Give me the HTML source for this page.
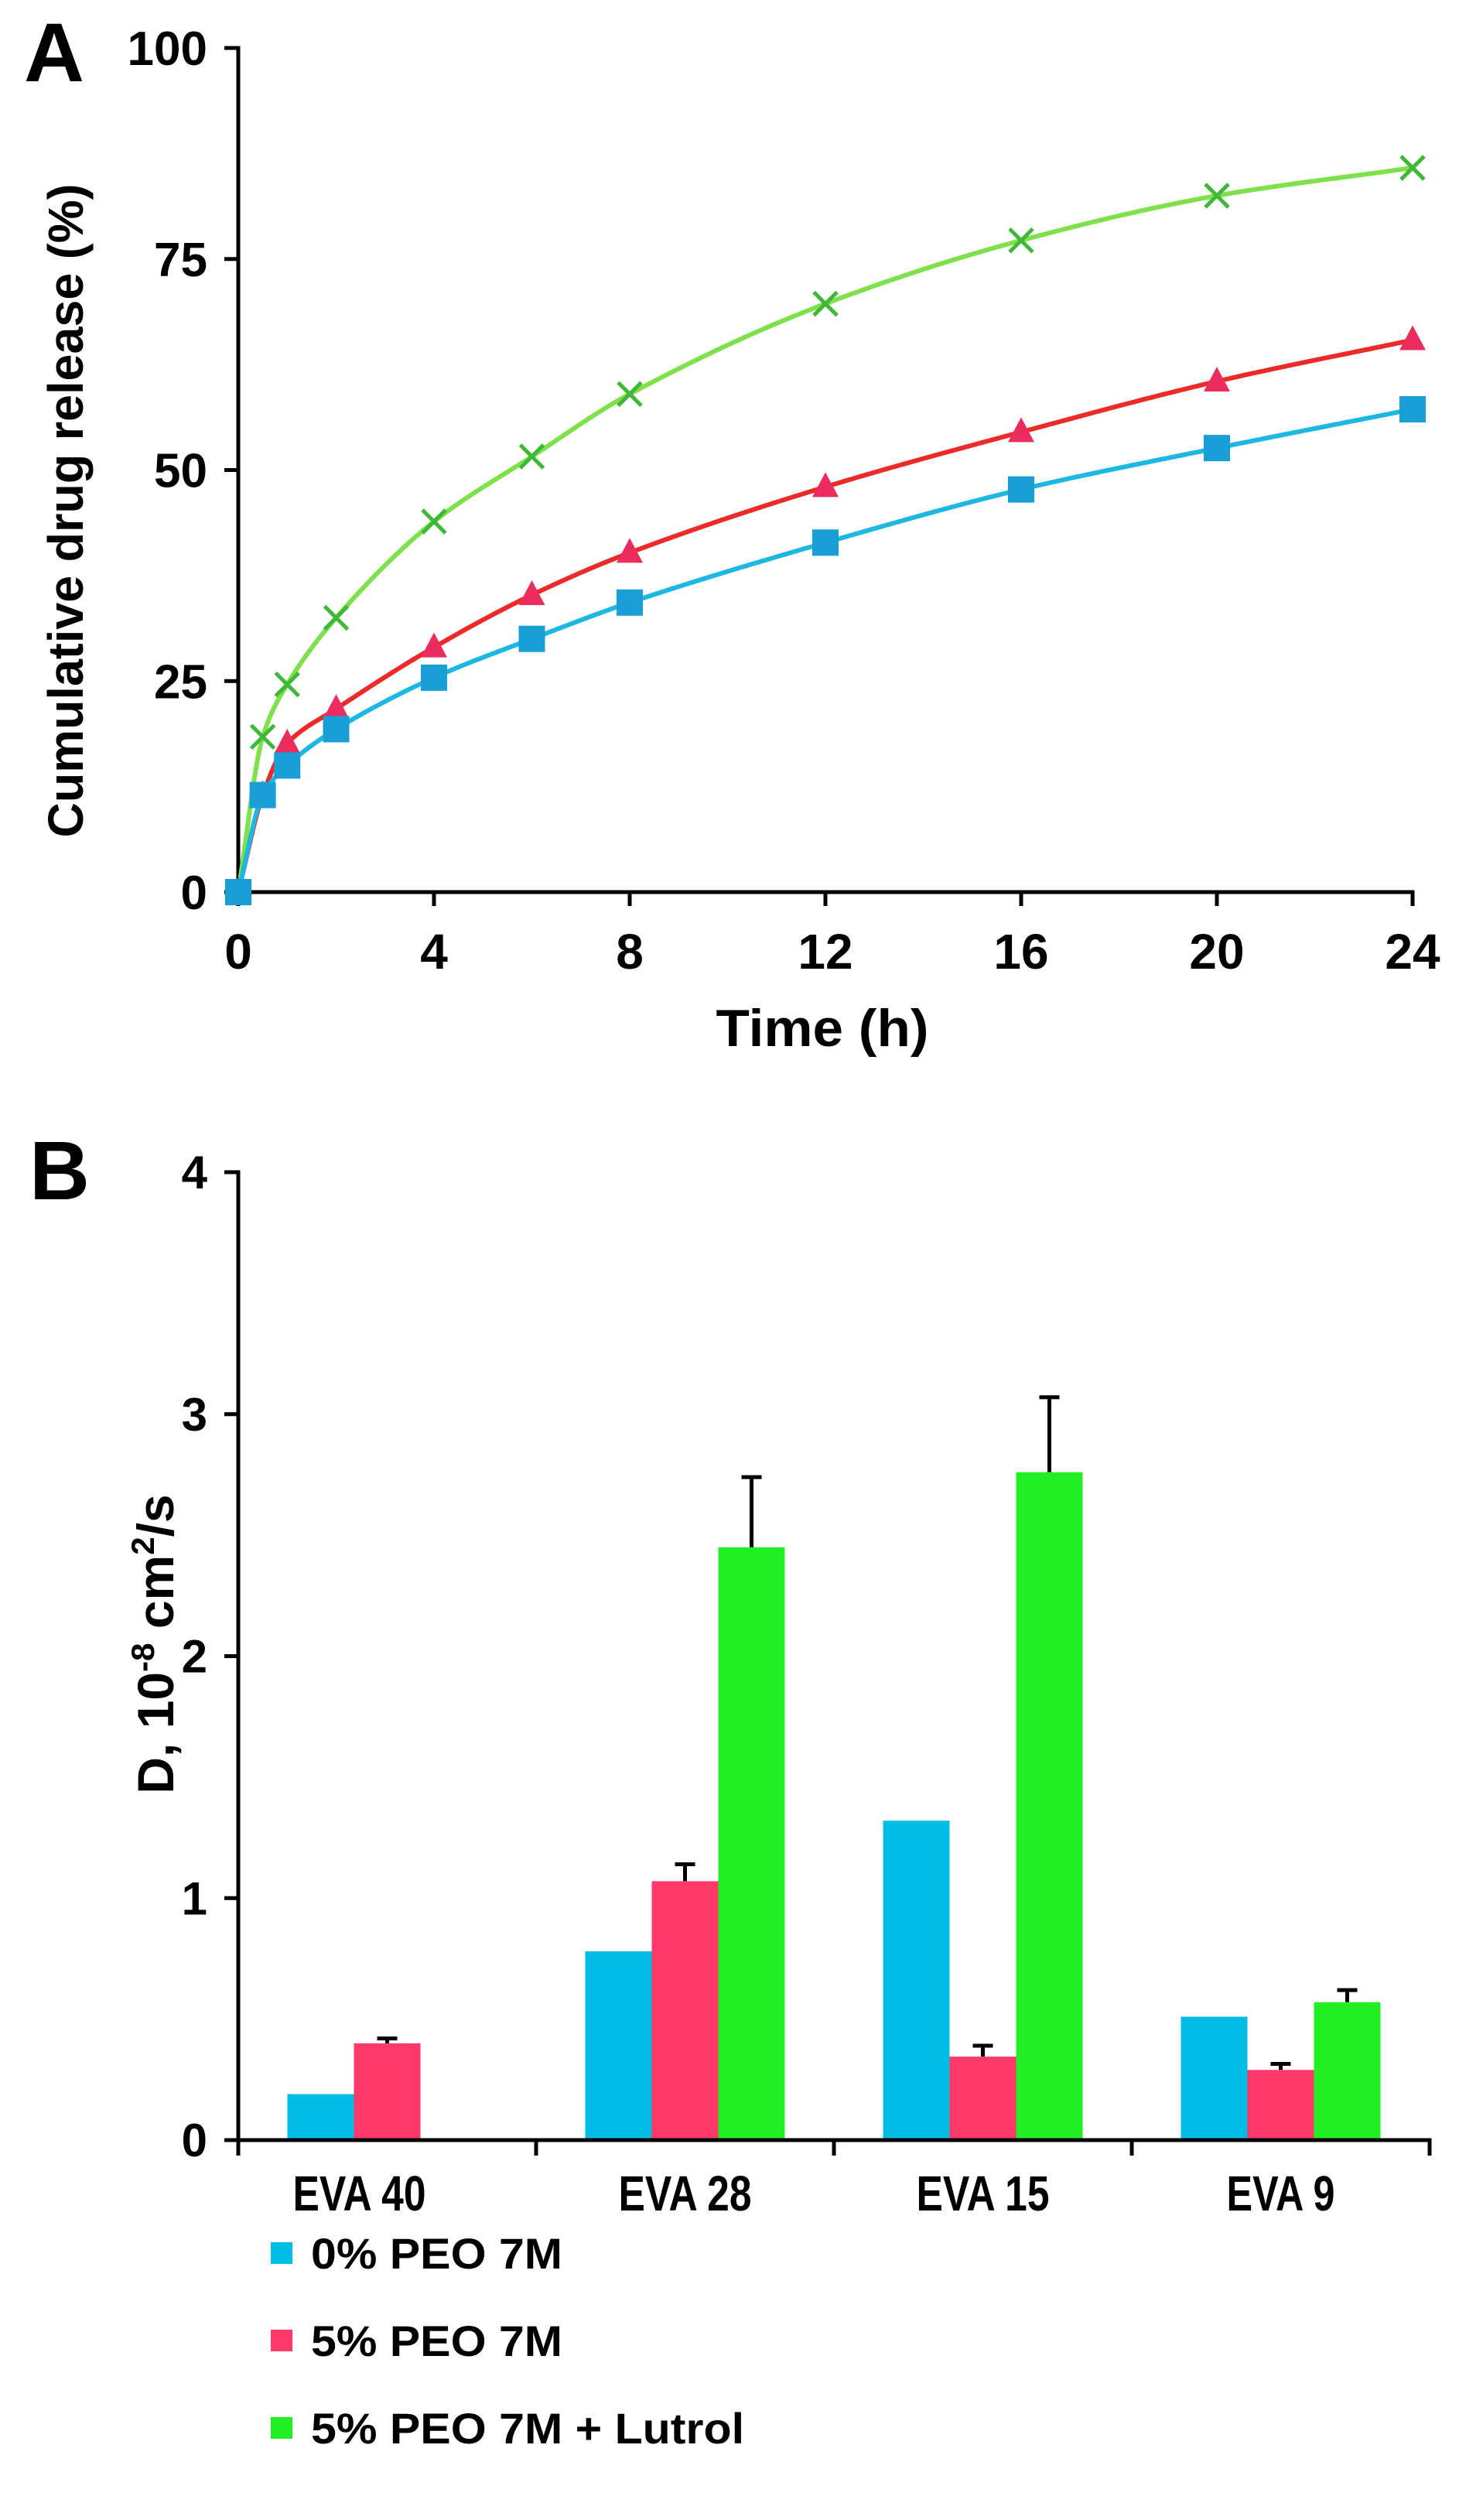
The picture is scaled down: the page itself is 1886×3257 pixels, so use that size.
<!DOCTYPE html>
<html><head><meta charset="utf-8"><style>
html,body{margin:0;padding:0;background:#fff;}
svg{display:block;}
text{font-family:"Liberation Sans Narrow","Liberation Sans",sans-serif;font-weight:bold;fill:#000;}
</style></head>
<body>
<svg id="fig" width="1886" height="3257" viewBox="0 0 1886 3257" xmlns="http://www.w3.org/2000/svg">
<g id="pa"></g>
<g id="pb"></g>
</svg>
<script>
// ---------- Panel A data ----------
const timesA = [0, 0.5, 1, 2, 4, 6, 8, 12, 16, 20, 24];
const blueA  = [0, 11.5, 15, 19.3, 25.4, 30, 34.3, 41.4, 47.7, 52.6, 57.2];
const redA   = [0, 11.5, 17.6, 21.7, 29, 35.2, 40.2, 48, 54.5, 60.5, 65.4];
const greenA = [0, 18.4, 24.6, 32.5, 43.9, 51.6, 59, 69.7, 77.2, 82.5, 85.8];
const xTicksA = [0, 4, 8, 12, 16, 20, 24];
const yTicksA = [0, 25, 50, 75, 100];

// ---------- Panel B data ----------
const catsB = ["EVA 40", "EVA 28", "EVA 15", "EVA 9"];
const seriesNamesB = ["0% PEO 7M", "5% PEO 7M", "5% PEO 7M + Lutrol"];
const blueB  = [0.19, 0.78, 1.32, 0.51];
const redB   = [0.40, 1.07, 0.345, 0.29];
const greenB = [null, 2.45, 2.76, 0.57];
const redErrB   = [0.02, 0.07, 0.045, 0.025];
const greenErrB = [null, 0.29, 0.31, 0.05];
const blueErrB  = [null, null, null, null];
const yTicksB = [0, 1, 2, 3, 4];

const NS = "http://www.w3.org/2000/svg";
function mk(parent, tag, attrs, txt) {
  const e = document.createElementNS(NS, tag);
  for (const k in attrs) e.setAttribute(k, attrs[k]);
  if (txt !== undefined) e.textContent = txt;
  parent.appendChild(e);
  return e;
}

// ===== Panel A =====
const pa = document.getElementById('pa');
const ax0 = 308, ax1 = 1826, ay0 = 1153, ay1 = 62;
const xA = t => ax0 + t / 24 * (ax1 - ax0);
const yA = v => ay0 - v / 100 * (ay0 - ay1);

let t;
t = mk(pa, 'text', {x: 31, y: 105, 'font-size': 108, style: 'font-family:"Liberation Sans",sans-serif'}, 'A');
 

let ax = mk(pa, 'path', {d: `M${ax0 - 18},${ay1} H${ax0} V${ay0} H${ax1} V${ay0 + 18}`, fill: 'none', stroke: '#000', 'stroke-width': 5});
 

yTicksA.forEach(v => {
  const y = yA(v);
  const tk = mk(pa, 'line', {x1: ax0 - 18, x2: ax0, y1: y, y2: y, stroke: '#000', 'stroke-width': 5});
   
  const lb = mk(pa, 'text', {x: 268, y: y + 22, 'font-size': 62, 'text-anchor': 'end'}, String(v));
   
});
xTicksA.forEach(v => {
  const x = xA(v);
  const tk = mk(pa, 'line', {x1: x, x2: x, y1: ay0, y2: ay0 + 18, stroke: '#000', 'stroke-width': 5});
   
  const lb = mk(pa, 'text', {x: x, y: 1252, 'font-size': 64, 'text-anchor': 'middle'}, String(v));
   
});
t = mk(pa, 'text', {x: 1063, y: 1352, 'font-size': 68, 'text-anchor': 'middle', textLength: 275, lengthAdjust: 'spacingAndGlyphs'}, 'Time (h)');
 
t = mk(pa, 'text', {x: 0, y: 0, 'font-size': 64, 'text-anchor': 'middle', textLength: 845, lengthAdjust: 'spacingAndGlyphs', transform: 'translate(107,660) rotate(-90)'}, 'Cumulative drug release (%)');
 

// monotone cubic (Fritsch–Carlson) smoothing through the data
function monotone(xs, ys) {
  const n = xs.length, d = [], m = [];
  for (let i = 0; i < n - 1; i++) d.push((ys[i + 1] - ys[i]) / (xs[i + 1] - xs[i]));
  m[0] = d[0]; m[n - 1] = d[n - 2];
  for (let i = 1; i < n - 1; i++) m[i] = (d[i - 1] * d[i] <= 0) ? 0 : 2 / (1 / d[i - 1] + 1 / d[i]);
  return tt => {
    let i = 0;
    while (i < n - 2 && tt > xs[i + 1]) i++;
    const h = xs[i + 1] - xs[i], s = (tt - xs[i]) / h;
    const h00 = 2*s*s*s - 3*s*s + 1, h10 = s*s*s - 2*s*s + s, h01 = -2*s*s*s + 3*s*s, h11 = s*s*s - s*s;
    return h00 * ys[i] + h10 * h * m[i] + h01 * ys[i + 1] + h11 * h * m[i + 1];
  };
}
function curve(vals, color, name) {
  const f = monotone(timesA, vals);
  let d = `M${xA(0)},${yA(0)}`;
  for (let i = 1; i <= 480; i++) {
    const tt = 24 * Math.pow(i / 480, 1.6);
    d += ` L${xA(tt).toFixed(1)},${yA(f(tt)).toFixed(1)}`;
  }
  const p = mk(pa, 'path', {d: d, fill: 'none', stroke: color, 'stroke-width': 6, 'stroke-linejoin': 'round'});
   
}
curve(greenA, '#7ee04a', 'fit-curve-lutrol');
curve(redA, '#ec2a2a', 'fit-curve-5pct-peo');
curve(blueA, '#1cb8e2', 'fit-curve-0pct-peo');

timesA.forEach((tt, i) => {
  const x = xA(tt);
  let y = yA(greenA[i]);
  const g = mk(pa, 'path', {d: `M${x - 15},${y - 15} L${x + 15},${y + 15} M${x - 15},${y + 15} L${x + 15},${y - 15}`, stroke: '#3fb83a', 'stroke-width': 5, fill: 'none'});
   
  y = yA(redA[i]);
  const r = mk(pa, 'path', {d: `M${x},${y - 19} L${x + 17},${y + 13} L${x - 17},${y + 13} Z`, fill: '#ea2d5c'});
   
  y = yA(blueA[i]);
  const s = mk(pa, 'rect', {x: x - 17, y: y - 17, width: 34, height: 34, fill: '#1a9ed6'});
   
});

// ===== Panel B =====
const pb = document.getElementById('pb');
const bx0 = 308, catW = 385, by0 = 2766, by4 = 1515;
const yB = v => by0 - v / 4 * (by0 - by4);
const barW = 86, pad = (catW - 3 * barW) / 2;
const xB = (ci, si) => bx0 + ci * catW + pad + si * barW;

t = mk(pb, 'text', {x: 38, y: 1550, 'font-size': 108, style: 'font-family:"Liberation Sans",sans-serif'}, 'B');
 

const colorsB = ['#00bde6', '#ff3a6a', '#22f022'];
const valsB = [blueB, redB, greenB];
const errsB = [blueErrB, redErrB, greenErrB];
const barNames = ['bar-0pct-peo', 'bar-5pct-peo', 'bar-lutrol'];
catsB.forEach((c, ci) => {
  for (let si = 0; si < 3; si++) {
    const v = valsB[si][ci];
    if (v === null) continue;
    const e = errsB[si][ci];
    if (e !== null) {
      const cx = xB(ci, si) + barW / 2;
      const eb = mk(pb, 'path', {d: `M${cx},${yB(v)} V${yB(v + e)} M${cx - 13},${yB(v + e)} H${cx + 13}`, stroke: '#000', 'stroke-width': 5, fill: 'none'});
       
    }
    const b = mk(pb, 'rect', {x: xB(ci, si), y: yB(v), width: barW, height: yB(0) - yB(v), fill: colorsB[si]});
     
  }
  const cx = bx0 + catW * (ci + 0.5) - (ci === 0 ? 36 : 0);
  const lb = mk(pb, 'text', {x: cx, y: 2857, 'font-size': 64, 'text-anchor': 'middle', textLength: c.length > 5 ? 172 : 140, lengthAdjust: 'spacingAndGlyphs'}, c);
   
});

ax = mk(pb, 'path', {d: `M${bx0 - 18},${by4} H${bx0} V${by0 + 20} M${bx0 - 18},${by0} H${bx0 + catW * 4} V${by0 + 20}`, fill: 'none', stroke: '#000', 'stroke-width': 5});
 
for (let ci = 1; ci < catsB.length; ci++) {
  const x = bx0 + ci * catW;
  const tk = mk(pb, 'line', {x1: x, x2: x, y1: by0, y2: by0 + 20, stroke: '#000', 'stroke-width': 5});
   
}
yTicksB.forEach(v => {
  const y = yB(v);
  const tk = mk(pb, 'line', {x1: bx0 - 18, x2: bx0, y1: y, y2: y, stroke: '#000', 'stroke-width': 5});
   
  const lb = mk(pb, 'text', {x: 268, y: y + 21, 'font-size': 60, 'text-anchor': 'end'}, String(v));
   
});

const yt = mk(pb, 'text', {x: 0, y: 0, 'font-size': 66, 'text-anchor': 'middle', transform: 'translate(224,2125) rotate(-90)'});


mk(yt, 'tspan', {}, 'D, 10');
mk(yt, 'tspan', {dy: -25, 'font-size': 42}, '-8');
mk(yt, 'tspan', {dy: 25}, ' cm');
mk(yt, 'tspan', {dy: -25, 'font-size': 42}, '2');
mk(yt, 'tspan', {dy: 25}, '/s');

const legY = [2912, 3025, 3138];
const legLen = [325, 325, 560];
seriesNamesB.forEach((n, i) => {
  const sw = mk(pb, 'rect', {x: 350, y: legY[i] - 14, width: 28, height: 28, fill: colorsB[i]});
   
  const lt = mk(pb, 'text', {x: 402, y: legY[i] + 20, 'font-size': 56, textLength: legLen[i], lengthAdjust: 'spacingAndGlyphs'}, n);
   
});
</script>
</body></html>
